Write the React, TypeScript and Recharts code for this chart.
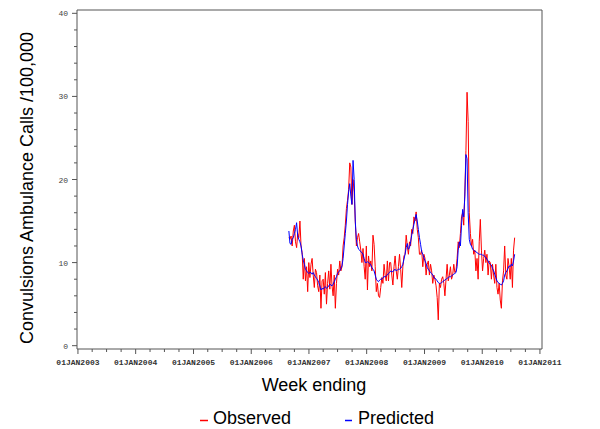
import React from 'react';
import { LineChart, Line, XAxis, YAxis, ReferenceLine } from 'recharts';

// Week-ending dates: first week ending and number of weeks
const firstWeekEnding = '2006-08-27';

// Observed weekly rates (per 100,000)
const observed: number[] = [
  13.0, 12.8, 13.2, 12.0, 13.8, 14.5, 12.5, 11.8, 13.5, 13.0,
  15.0, 12.0, 11.2, 8.0, 10.5, 7.8, 9.5, 6.5, 10.0, 8.2,
  9.8, 10.5, 8.5, 7.0, 9.2, 8.8, 7.2, 6.5, 8.5, 4.5,
  7.8, 8.0, 6.2, 8.8, 5.0, 7.5, 9.0, 6.8, 9.8, 7.2, 6.0,
  8.5, 4.5, 7.5, 9.2, 8.5, 10.2, 9.0, 9.5, 12.0, 13.0,
  14.5, 16.5, 17.5, 18.8, 22.0, 21.5, 17.0, 20.0, 18.5, 15.0,
  12.0, 13.0, 13.5, 12.5, 11.5, 10.0, 11.7, 9.5, 8.0, 12.0, 6.7,
  10.8, 9.5, 10.2, 9.0, 13.3, 12.2, 9.5, 6.5, 7.5, 6.0,
  5.8, 7.0, 8.2, 7.5, 9.8, 8.5, 7.8, 10.2, 7.8, 10.0,
  10.0, 8.5, 7.3, 9.5, 10.8, 9.0, 8.0, 9.5, 11.0, 9.2, 7.0,
  9.5, 10.8, 11.0, 13.3, 12.0, 11.0, 12.5, 12.0, 14.0, 13.5,
  15.5, 15.0, 16.1, 14.0, 13.0, 11.0, 11.0, 11.5, 9.5, 11.0,
  10.5, 8.5, 9.8, 10.2, 8.5, 9.8, 9.0, 7.5, 8.5, 8.0, 7.2,
  5.8, 3.1, 7.5, 7.0, 8.0, 8.3, 7.5, 6.0, 8.0, 9.8,
  7.8, 8.5, 9.5, 8.0, 8.5, 9.8, 8.8, 9.0, 10.5, 12.5,
  11.8, 13.5, 15.5, 16.0, 14.5, 18.5, 23.5, 30.5, 27.0, 16.0,
  13.5, 12.0, 12.8, 11.0, 11.5, 9.0, 10.5, 8.0, 12.5, 15.2, 11.5,
  9.0, 10.5, 11.5, 10.0, 11.0, 8.5, 10.2, 10.0, 8.0, 9.8,
  8.5, 7.5, 9.8, 7.0, 6.2, 7.5, 5.5, 4.5, 7.8, 9.0,
  12.0, 8.5, 8.0, 10.5, 9.5, 8.0, 10.5, 7.0, 11.5, 13.0,
];

// Predicted weekly rates (per 100,000)
const predicted: number[] = [
  13.8, 12.3, 12.2, 12.8, 13.0, 13.5, 14.0, 14.8, 13.2, 12.8,
  12.5, 12.0, 11.0, 10.3, 9.8, 9.2, 9.0, 8.8, 8.7, 8.8,
  8.8, 8.6, 8.8, 8.5, 8.3, 8.1, 7.9, 7.6, 7.2, 6.7,
  6.9, 6.8, 7.0, 7.1, 6.9, 7.0, 7.2, 7.4, 7.3, 7.2, 7.4,
  7.7, 8.0, 8.3, 8.7, 8.9, 9.0, 9.3, 9.6, 10.5, 12.0,
  13.5, 15.0, 17.0, 18.5, 19.5, 18.0, 17.0, 22.3, 20.0, 15.0,
  12.8, 12.0, 11.6, 11.5, 11.3, 11.2, 11.0, 10.5, 10.0, 10.0, 10.1,
  10.0, 9.9, 9.7, 9.4, 9.2, 9.0, 8.5, 8.0, 7.8, 7.7,
  7.9, 8.0, 8.0, 8.2, 8.3, 8.3, 8.4, 8.5, 8.7, 8.8,
  9.0, 8.9, 8.9, 9.1, 9.2, 9.0, 9.1, 9.2, 9.2, 9.3, 9.5,
  9.8, 10.4, 11.0, 11.8, 12.3, 11.6, 11.8, 12.5, 13.3, 14.0,
  14.6, 15.2, 15.8, 15.0, 14.0, 13.0, 12.2, 11.3, 11.0, 10.6,
  10.2, 9.9, 9.4, 9.2, 9.0, 8.8, 8.7, 8.5, 8.2, 8.1, 8.0,
  7.8, 7.6, 7.5, 7.5, 7.6, 7.7, 7.8, 7.9, 8.0, 8.1,
  8.2, 8.3, 8.3, 8.4, 8.5, 8.6, 8.7, 8.8, 9.5, 11.5,
  12.5, 12.0, 14.5, 16.4, 15.5, 18.0, 23.0, 22.5, 16.0, 12.8,
  12.2, 12.0, 11.6, 11.5, 11.4, 11.3, 11.2, 11.1, 11.0, 11.0, 11.0,
  10.9, 10.9, 10.7, 10.6, 10.4, 10.2, 9.9, 9.8, 9.7, 9.3,
  9.0, 8.6, 8.2, 7.8, 7.6, 7.5, 7.4, 7.3, 7.5, 7.8,
  8.5, 8.8, 9.0, 9.3, 9.6, 9.5, 9.8, 9.6, 10.2, 11.0,
];

// Axis tick years and y-axis ticks
const tickYears: number[] = [2003, 2004, 2005, 2006, 2007, 2008, 2009, 2010, 2011];
const yMajorTicks: number[] = [0, 10, 20, 30, 40];

const DAY = 86400000;
const ORIGIN = Date.UTC(2003, 0, 1);
const dayOf = (y: number, m: number, d: number) => Math.round((Date.UTC(y, m, d) - ORIGIN) / DAY);

const startDay = Math.round((Date.parse(firstWeekEnding + 'T00:00:00Z') - ORIGIN) / DAY);
const data = observed.map((o, i) => ({
  day: startDay + 7 * i,
  observed: o,
  predicted: predicted[i],
}));

const majorDays = tickYears.map((y) => dayOf(y, 0, 1));
const xTicks: number[] = [];
tickYears.forEach((y, idx) => {
  xTicks.push(dayOf(y, 0, 1));
  if (idx < tickYears.length - 1) {
    xTicks.push(dayOf(y, 3, 1), dayOf(y, 6, 1), dayOf(y, 9, 1));
  }
});
const yTicks: number[] = [];
for (let v = 0; v <= 40; v += 2) yTicks.push(v);

const X_MIN = -6;
const X_MAX = 2935;
const Y_MIN = -0.4;
const Y_MAX = 40.4;
const AXIS = '#555';

const XTick = (props: any) => {
  const { x, y, payload } = props;
  const idx = majorDays.indexOf(payload.value);
  const major = idx >= 0;
  return (
    <g>
      <line x1={x} x2={x} y1={y} y2={y + (major ? 5 : 3)} stroke={AXIS} strokeWidth={1} />
      {major && (
        <text x={x} y={y + 16} textAnchor="middle" fontFamily="'Liberation Mono', 'DejaVu Sans Mono', monospace"
          fontWeight="bold" fontSize={8} fill="#333">
          {'01JAN' + tickYears[idx]}
        </text>
      )}
    </g>
  );
};

const YTick = (props: any) => {
  const { x, y, payload } = props;
  const major = yMajorTicks.indexOf(payload.value) >= 0;
  return (
    <g>
      <line x1={x - (major ? 5 : 3)} x2={x} y1={y} y2={y} stroke={AXIS} strokeWidth={1} />
      {major && (
        <text x={x - 9} y={y + 3} textAnchor="end" fontFamily="'Liberation Mono', 'DejaVu Sans Mono', monospace"
          fontSize={8} fill="#444">
          {payload.value}
        </text>
      )}
    </g>
  );
};

const SANS = "'Liberation Sans', Arial, sans-serif";

export default function App() {
  return (
    <div style={{ position: 'absolute', left: 0, top: 0, width: 600, height: 429, background: '#fff' }}>
      <LineChart width={600} height={429} data={data} margin={{ top: 10, right: 58, bottom: 0, left: 0 }}>
        <XAxis
          dataKey="day"
          type="number"
          domain={[X_MIN, X_MAX]}
          ticks={xTicks}
          interval={0}
          tick={<XTick />}
          tickLine={false}
          tickSize={0}
          tickMargin={0}
          height={80}
          axisLine={{ stroke: AXIS }}
          allowDataOverflow
        />
        <YAxis
          type="number"
          domain={[Y_MIN, Y_MAX]}
          ticks={yTicks}
          interval={0}
          tick={<YTick />}
          tickLine={false}
          tickSize={0}
          tickMargin={0}
          width={77}
          axisLine={{ stroke: AXIS }}
          allowDataOverflow
        />
        <ReferenceLine y={Y_MAX} stroke={AXIS} ifOverflow="extendDomain" />
        <ReferenceLine x={X_MAX} stroke={AXIS} ifOverflow="extendDomain" />
        <Line type="linear" dataKey="observed" stroke="#ff0000" strokeWidth={1} dot={false} isAnimationActive={false} />
        <Line type="linear" dataKey="predicted" stroke="#0000ff" strokeWidth={1} dot={false} isAnimationActive={false} />
      </LineChart>
      <svg width={600} height={429} style={{ position: 'absolute', left: 0, top: 0, pointerEvents: 'none' }}>
        <text x={0} y={0} transform="translate(33,188) rotate(-90)" textAnchor="middle" fontFamily={SANS} fontSize={18} fill="#000">
          Convulsions Ambulance Calls /100,000
        </text>
        <text x={314} y={391} textAnchor="middle" fontFamily={SANS} fontSize={18} fill="#000">
          Week ending
        </text>
        <line x1={200} x2={208} y1={420.5} y2={420.5} stroke="#ff0000" strokeWidth={1.5} />
        <text x={213} y={424} fontFamily={SANS} fontSize={18} fill="#000">Observed</text>
        <line x1={345} x2={352} y1={420.5} y2={420.5} stroke="#0000ff" strokeWidth={1.5} />
        <text x={358} y={424} fontFamily={SANS} fontSize={18} fill="#000">Predicted</text>
      </svg>
    </div>
  );
}
